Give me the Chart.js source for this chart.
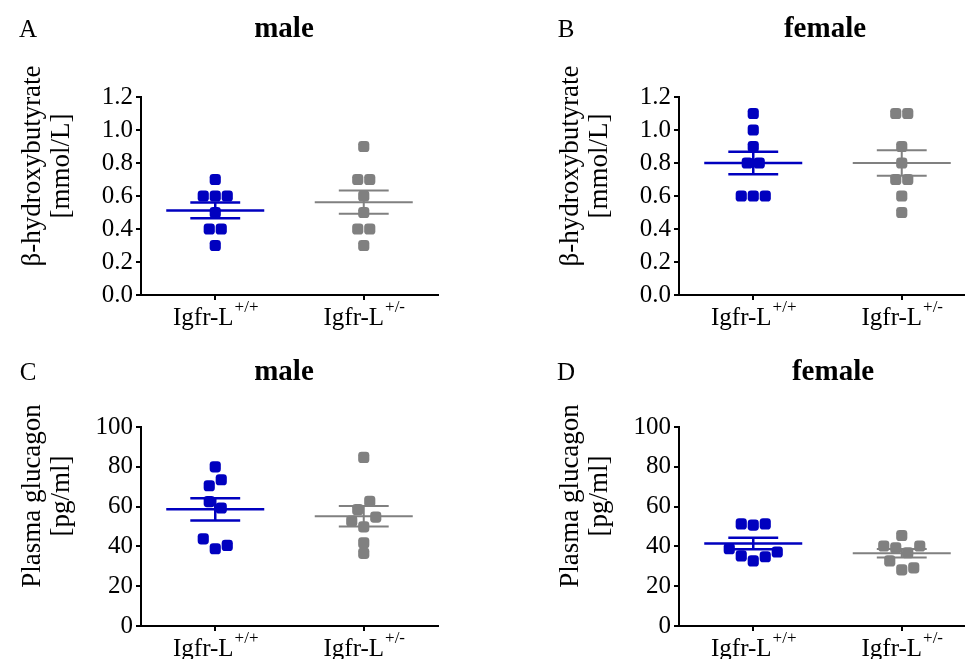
<!DOCTYPE html>
<html>
<head>
<meta charset="utf-8">
<script src="https://cdn.jsdelivr.net/npm/chart.js"></script>
<style>
  html, body { margin: 0; padding: 0; background: #fff; overflow: hidden; }
  #wrap { position: relative; width: 965px; height: 659px; overflow: hidden; }
  canvas { position: absolute; }
</style>
</head>
<body>
<div id="wrap">
  <canvas id="chartA" width="482" height="330" style="left:0;top:0"></canvas>
  <canvas id="chartB" width="482" height="330" style="left:538px;top:0"></canvas>
  <canvas id="chartC" width="482" height="329" style="left:0;top:330px"></canvas>
  <canvas id="chartD" width="482" height="329" style="left:538px;top:330px"></canvas>
</div>
<script>
// --- Data ---
const groupNames = ['Igfr-L', 'Igfr-L'];
const groupSup = ['+/+', '+/-'];
const groupPos = [1, 2];

// beta-hydroxybutyrate [mmol/L]
const bhbMaleWt = [0.7, 0.6, 0.6, 0.6, 0.5, 0.4, 0.4, 0.3];
const bhbMaleHet = [0.9, 0.7, 0.7, 0.6, 0.5, 0.4, 0.4, 0.3];
const bhbFemaleWt = [1.1, 1.0, 0.9, 0.8, 0.8, 0.6, 0.6, 0.6];
const bhbFemaleHet = [1.1, 1.1, 0.9, 0.8, 0.7, 0.7, 0.6, 0.5];

// plasma glucagon [pg/ml]
const gluMaleWt = [80, 70.5, 73.5, 62.5, 59.3, 43.8, 38.8, 40.5];
const gluMaleHet = [84.7, 58.5, 62.7, 52.7, 49.8, 54.7, 36.5, 41.8];
const gluFemaleWt = [51.3, 50.7, 51.3, 38.8, 35.2, 32.7, 34.8, 37.2];
const gluFemaleHet = [45.5, 40.2, 39.3, 36.8, 40.2, 32.7, 28.2, 29.2];

const bhbTicks = [0, 0.2, 0.4, 0.6, 0.8, 1.0, 1.2];
const gluTicks = [0, 20, 40, 60, 80, 100];

const BLUE = '#0000bf';
const GRAY = '#808080';
const FONT = '"Liberation Serif", "Times New Roman", serif';

// mean and SEM
function stats(vals) {
    const n = vals.length;
    const m = vals.reduce((s, v) => s + v, 0) / n;
    const sd = Math.sqrt(vals.reduce((s, v) => s + (v - m) * (v - m), 0) / (n - 1));
    return { mean: m, sem: sd / Math.sqrt(n) };
}

// spread close values into centred rows (prism style)
function swarm(vals, toPx, rowGap, slot) {
    const idx = vals.map((v, i) => i).sort((a, b) => vals[b] - vals[a]);
    const rows = [];
    idx.forEach(i => {
        const row = rows[rows.length - 1];
        const last = row ? row[row.length - 1] : null;
        if (row && (Math.abs(toPx(vals[i]) - toPx(vals[row[0]])) < rowGap ||
                    Math.abs(toPx(vals[i]) - toPx(vals[last])) < 5)) row.push(i);
        else rows.push([i]);
    });
    const off = new Array(vals.length).fill(0);
    rows.forEach(row => {
        row.sort((a, b) => a - b);
        row.forEach((i, k) => { off[i] = (k - (row.length - 1) / 2) * slot; });
    });
    return off;
}

function errorBarData(g, vals) {
    const { mean, sem } = stats(vals);
    const mw = 0.33, cw = 0.168;
    return [
        { x: g - mw, y: mean }, { x: g + mw, y: mean }, { x: g, y: null },
        { x: g - cw, y: mean + sem }, { x: g + cw, y: mean + sem }, { x: g, y: null },
        { x: g - cw, y: mean - sem }, { x: g + cw, y: mean - sem }, { x: g, y: null },
        { x: g, y: mean - sem }, { x: g, y: mean + sem }
    ];
}

// --- text around each panel ---
const panelText = {
    id: 'panelText',
    afterDraw(chart, args, o) {
        const ctx = chart.ctx;
        const area = chart.chartArea;
        ctx.save();
        ctx.fillStyle = '#000';
        ctx.textAlign = 'center';
        ctx.textBaseline = 'middle';
        ctx.font = '25px ' + FONT;
        ctx.fillText(o.letter, 28, o.headY);
        ctx.font = 'bold 29px ' + FONT;
        ctx.fillText(o.title, o.titleX, o.headY);

        ctx.font = '27px ' + FONT;
        o.yTitle.forEach((t, i) => {
            ctx.save();
            ctx.translate(i === 0 ? 33 : 62, 166);
            ctx.rotate(-Math.PI / 2);
            ctx.fillText(t, 0, 0);
            ctx.restore();
        });

        // x labels with superscript
        const xs = chart.scales.x;
        ctx.textAlign = 'left';
        ctx.textBaseline = 'alphabetic';
        groupPos.forEach((g, i) => {
            ctx.font = '25px ' + FONT;
            const w1 = ctx.measureText(groupNames[i]).width;
            ctx.font = '17px ' + FONT;
            const w2 = ctx.measureText(groupSup[i]).width;
            const x0 = xs.getPixelForValue(g) - (w1 + w2) / 2;
            ctx.font = '25px ' + FONT;
            ctx.fillText(groupNames[i], x0, area.bottom + 30);
            ctx.font = '17px ' + FONT;
            ctx.fillText(groupSup[i], x0 + w1 + 1, area.bottom + 17);
        });
        ctx.restore();
    }
};

function makePanel(id, cfg) {
    const datasets = [];
    [cfg.wt, cfg.het].forEach((vals, i) => {
        const color = i === 0 ? BLUE : GRAY;
        datasets.push({
            data: errorBarData(groupPos[i], vals),
            showLine: true,
            spanGaps: false,
            borderColor: color,
            borderWidth: i === 0 ? 2.5 : 2,
            pointRadius: 0
        });
    });
    [cfg.wt, cfg.het].forEach((vals, i) => {
        const color = i === 0 ? BLUE : GRAY;
        datasets.push({
            raw: vals,
            group: groupPos[i],
            data: vals.map(v => ({ x: groupPos[i], y: v })),
            pointStyle: 'rectRounded',
            pointRadius: 6.5,
            pointBackgroundColor: color,
            pointBorderWidth: 0,
            showLine: false
        });
    });

    const canvas = document.getElementById(id);
    const chart = new Chart(canvas.getContext('2d'), {
        type: 'scatter',
        data: { datasets },
        options: {
            responsive: false,
            animation: false,
            layout: { padding: { left: 81, top: 97, right: 44, bottom: 0 } },
            plugins: {
                legend: { display: false },
                tooltip: { enabled: false },
                panelText: { letter: cfg.letter, title: cfg.title, titleX: cfg.titleX, headY: cfg.headY, yTitle: cfg.yTitle }
            },
            scales: {
                x: {
                    type: 'linear', min: 0.5, max: 2.5,
                    afterBuildTicks: s => { s.ticks = groupPos.map(v => ({ value: v })); },
                    afterFit: s => { s.height = canvas.height - cfg.bottom; },
                    ticks: { callback: () => '', padding: 0 },
                    grid: { drawOnChartArea: false, drawTicks: true, tickLength: 5, color: '#000', lineWidth: 2 },
                    border: { color: '#000', width: 2 }
                },
                y: {
                    min: cfg.ticks[0], max: cfg.ticks[cfg.ticks.length - 1],
                    afterBuildTicks: s => { s.ticks = cfg.ticks.map(v => ({ value: v })); },
                    afterFit: s => { s.width = 60; },
                    ticks: {
                        callback: v => cfg.decimals ? v.toFixed(1) : String(v),
                        color: '#000', padding: 3,
                        font: { family: FONT, size: 25 }
                    },
                    grid: { drawOnChartArea: false, drawTicks: true, tickLength: 5, color: '#000', lineWidth: 2 },
                    border: { color: '#000', width: 2 }
                }
            }
        },
        plugins: [panelText]
    });

    // spread the points once scales are known
    const xs = chart.scales.x, ys = chart.scales.y;
    const slot = 12 / (xs.getPixelForValue(1) - xs.getPixelForValue(0));
    chart.data.datasets.forEach(ds => {
        if (!ds.raw) return;
        const off = swarm(ds.raw, v => ys.getPixelForValue(v), 10.5, slot);
        ds.data = ds.raw.map((v, i) => ({ x: ds.group + off[i], y: v }));
    });
    chart.update();
    return chart;
}

makePanel('chartA', { wt: bhbMaleWt, het: bhbMaleHet, ticks: bhbTicks, decimals: true, letter: 'A', title: 'male', titleX: 284, headY: 30, bottom: 295, yTitle: ['β-hydroxybutyrate', '[mmol/L]'] });
makePanel('chartB', { wt: bhbFemaleWt, het: bhbFemaleHet, ticks: bhbTicks, decimals: true, letter: 'B', title: 'female', titleX: 287, headY: 30, bottom: 295, yTitle: ['β-hydroxybutyrate', '[mmol/L]'] });
makePanel('chartC', { wt: gluMaleWt, het: gluMaleHet, ticks: gluTicks, decimals: false, letter: 'C', title: 'male', titleX: 284, headY: 43, bottom: 296, yTitle: ['Plasma glucagon', '[pg/ml]'] });
makePanel('chartD', { wt: gluFemaleWt, het: gluFemaleHet, ticks: gluTicks, decimals: false, letter: 'D', title: 'female', titleX: 295, headY: 43, bottom: 296, yTitle: ['Plasma glucagon', '[pg/ml]'] });
</script>
</body>
</html>
